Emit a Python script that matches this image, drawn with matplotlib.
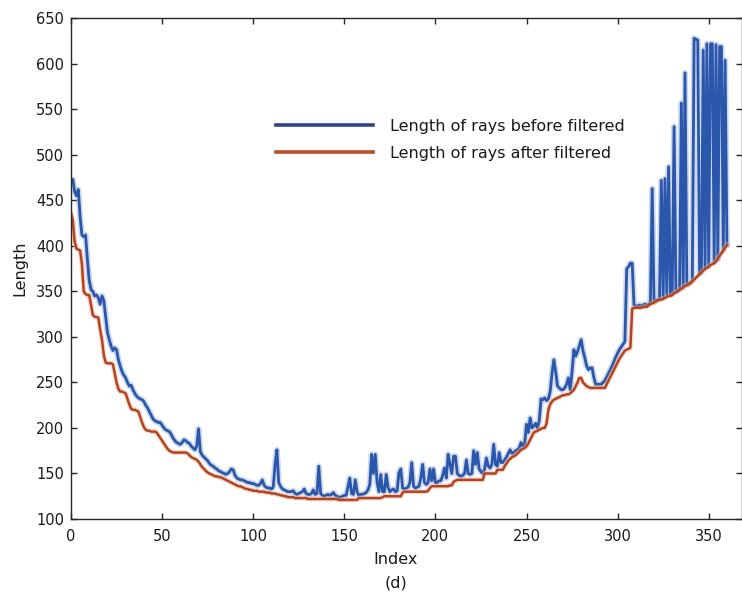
import matplotlib
matplotlib.use("Agg")
import matplotlib.pyplot as plt
from matplotlib.lines import Line2D
import numpy as np

plt.rcParams['font.family'] = ['DejaVu Sans']

# ---- data ----
before = [
    472, 473, 460, 455, 462, 432, 412, 410, 412, 385,
    362, 352, 350, 345, 346, 343, 336, 345, 340, 322,
    305, 297, 290, 285, 288, 286, 275, 268, 262, 258,
    255, 250, 246, 247, 242, 238, 235, 233, 232, 231,
    229, 225, 222, 218, 214, 210, 208, 207, 206, 206,
    203, 200, 198, 197, 196, 193, 189, 186, 184, 183,
    182, 184, 187, 186, 184, 183, 180, 178, 176, 180,
    199, 174, 170, 168, 166, 164, 161, 159, 158, 156,
    155, 153, 152, 151, 150, 149, 150, 152, 155, 154,
    148, 145, 144, 143, 143, 142, 141, 140, 140, 139,
    139, 138, 137, 137, 139, 143, 137, 135, 134, 134,
    133, 135, 160, 176, 140, 136, 133, 132, 131, 130,
    130, 130, 131, 128, 127, 128, 129, 130, 133, 128,
    127, 127, 128, 132, 127, 128, 158, 128, 126, 125,
    126, 127, 126, 127, 129, 126, 125, 124, 124, 125,
    126, 126, 135, 145, 128, 127, 143, 130, 126, 127,
    127, 128, 129, 132, 138, 171, 150, 171, 140, 130,
    149, 130, 130, 149, 135, 130, 132, 133, 130, 131,
    151, 155, 134, 133, 134, 135, 140, 162, 136, 134,
    135, 136, 145, 160, 140, 138, 140, 155, 142, 155,
    140, 140, 142, 142, 148, 156, 145, 171, 160, 150,
    169, 169, 150, 148, 147, 148, 150, 165, 150, 149,
    150, 175, 160, 173, 155, 152, 150, 155, 167, 158,
    156, 160, 182, 160, 158, 173, 162, 162, 165, 168,
    172, 176, 172, 173, 175, 176, 178, 184, 180, 183,
    204, 195, 211, 200, 202, 205, 200, 208, 232, 231,
    233, 230, 232, 240, 260, 275, 262, 246, 244, 242,
    242, 244, 248, 255, 242, 262, 286, 279, 284, 290,
    297, 285, 277, 268, 264, 266, 266, 255, 248, 248,
    248, 248, 250, 252, 256, 260, 264, 268, 273, 278,
    282, 286, 289, 292, 295, 375, 377, 381, 381, 335,
    334, 334, 335, 334, 335, 336, 335, 336, 338, 463,
    338, 340, 341, 342, 472, 343, 474, 346, 487, 347,
    348, 531, 350, 351, 352, 557, 354, 590, 357, 358,
    360, 362, 628, 627, 626, 369, 371, 615, 375, 622,
    378, 622, 622, 382, 621, 385, 619, 619, 395, 604,
    401,
]

after = [
    436, 428, 405, 397, 396, 395, 380, 350, 347, 346,
    346, 335, 324, 322, 322, 321, 308, 297, 280, 272,
    271, 271, 271, 270, 260, 250, 243, 240, 240, 239,
    238, 232, 226, 221, 220, 220, 219, 218, 212, 206,
    201, 198, 197, 197, 196, 196, 196, 195, 192, 189,
    186, 183, 180, 177, 175, 174, 173, 173, 173, 173,
    173, 173, 173, 173, 172, 170, 168, 167, 166, 165,
    163, 160, 157, 155, 153, 151, 150, 149, 148, 147,
    147, 146, 146, 145, 144, 143, 142, 141, 140, 139,
    138, 137, 136, 136, 135, 134, 133, 133, 132, 132,
    131, 131, 131, 130, 130, 130, 130, 129, 129, 129,
    128, 128, 128, 127, 127, 126, 126, 125, 125, 124,
    124, 124, 124, 123, 123, 123, 123, 123, 123, 123,
    122, 122, 122, 122, 122, 122, 122, 122, 122, 122,
    122, 122, 122, 122, 122, 122, 122, 121, 121, 121,
    121, 121, 121, 121, 121, 121, 121, 121, 123, 123,
    123, 123, 123, 123, 123, 123, 123, 123, 123, 123,
    123, 124, 125, 125, 125, 125, 125, 125, 125, 125,
    125, 125, 129, 130, 130, 130, 130, 130, 130, 130,
    130, 130, 130, 130, 130, 130, 131, 134, 136, 136,
    136, 136, 136, 136, 136, 136, 136, 136, 137, 137,
    141, 142, 143, 143, 143, 143, 143, 143, 143, 143,
    143, 143, 143, 143, 143, 143, 143, 150, 150, 150,
    150, 150, 150, 150, 154, 154, 154, 154, 158, 161,
    164, 166, 168, 169, 170, 172, 174, 176, 177, 178,
    180, 183, 187, 191, 195, 196, 197, 198, 199, 200,
    200, 205, 220, 226, 229, 231, 232, 233, 234, 235,
    236, 236, 237, 237, 238, 240, 242, 246, 250, 255,
    255, 250, 248, 246, 245, 244, 244, 244, 244, 244,
    244, 244, 244, 244, 248, 252, 256, 260, 264, 268,
    272, 276, 279, 282, 285, 286, 287, 288, 331, 332,
    332, 332, 332, 332, 333, 333, 333, 335, 336, 337,
    338, 339, 340, 341, 341, 342, 343, 344, 345, 345,
    346, 348, 349, 350, 352, 353, 355, 356, 357, 358,
    359, 361, 363, 365, 367, 369, 371, 373, 375, 376,
    377, 379, 380, 381, 383, 386, 389, 392, 395, 398,
    401,
]

x_ticks = [0, 50, 100, 150, 200, 250, 300, 350]
y_ticks = [100, 150, 200, 250, 300, 350, 400, 450, 500, 550, 600, 650]
labels = ["Length of rays before filtered", "Length of rays after filtered"]

idx = np.arange(len(before))

W, H = 742, 594
fig = plt.figure(figsize=(W / 100, H / 100), dpi=100)
ax_l, ax_r, ax_t, ax_b = 71, 741.5, 18.3, 519
ax = fig.add_axes([ax_l / W, (H - ax_b) / H, (ax_r - ax_l) / W, (ax_b - ax_t) / H])

blue = '#2a56ab'
red = '#b5441e'
ax.plot(idx, before, color='#9fb4da', lw=4.4, alpha=0.5, solid_joinstyle='round')
ax.plot(idx, before, color=blue, lw=2.0)
ax.plot(idx, after, color='#e8b9a6', lw=3.6, alpha=0.5)
ax.plot(idx, after, color=red, lw=1.8)

ax.set_xlim(0, 368)
ax.set_ylim(100, 650)
ax.set_xticks(x_ticks)
ax.set_yticks(y_ticks)
ax.tick_params(direction='in', length=4.5, width=1.0, top=True, right=True,
               labelsize=10.5, colors='#262626', labelcolor='#1a1a1a')
ax.tick_params(axis='x', pad=7)
ax.tick_params(axis='y', pad=5)
for s in ax.spines.values():
    s.set_linewidth(1.0)
    s.set_color('#262626')

fig.text(20 / W, 1 - 268 / H, "Length", rotation=90, ha='center', va='center',
         fontsize=11.5, color='#1a1a1a')
fig.text(396 / W, 1 - 560 / H, "Index", ha='center', va='center',
         fontsize=11.5, color='#1a1a1a')
fig.text(396 / W, 1 - 583 / H, "(d)", ha='center', va='center',
         fontsize=11.5, color='#1a1a1a')

handles = [Line2D([], [], color='#2d4680', lw=2.6),
           Line2D([], [], color='#b5502a', lw=2.6)]
leg = ax.legend(handles, labels, loc='upper left',
                bbox_to_anchor=((276 - ax_l) / (ax_r - ax_l), 1 - (119 - ax_t) / (ax_b - ax_t)),
                frameon=False, fontsize=11.5, handlelength=6.1, handletextpad=1.05,
                labelspacing=0.74, borderaxespad=0, borderpad=0)
for t in leg.get_texts():
    t.set_color('#1a1a1a')

fig.savefig("out.png", dpi=100)
